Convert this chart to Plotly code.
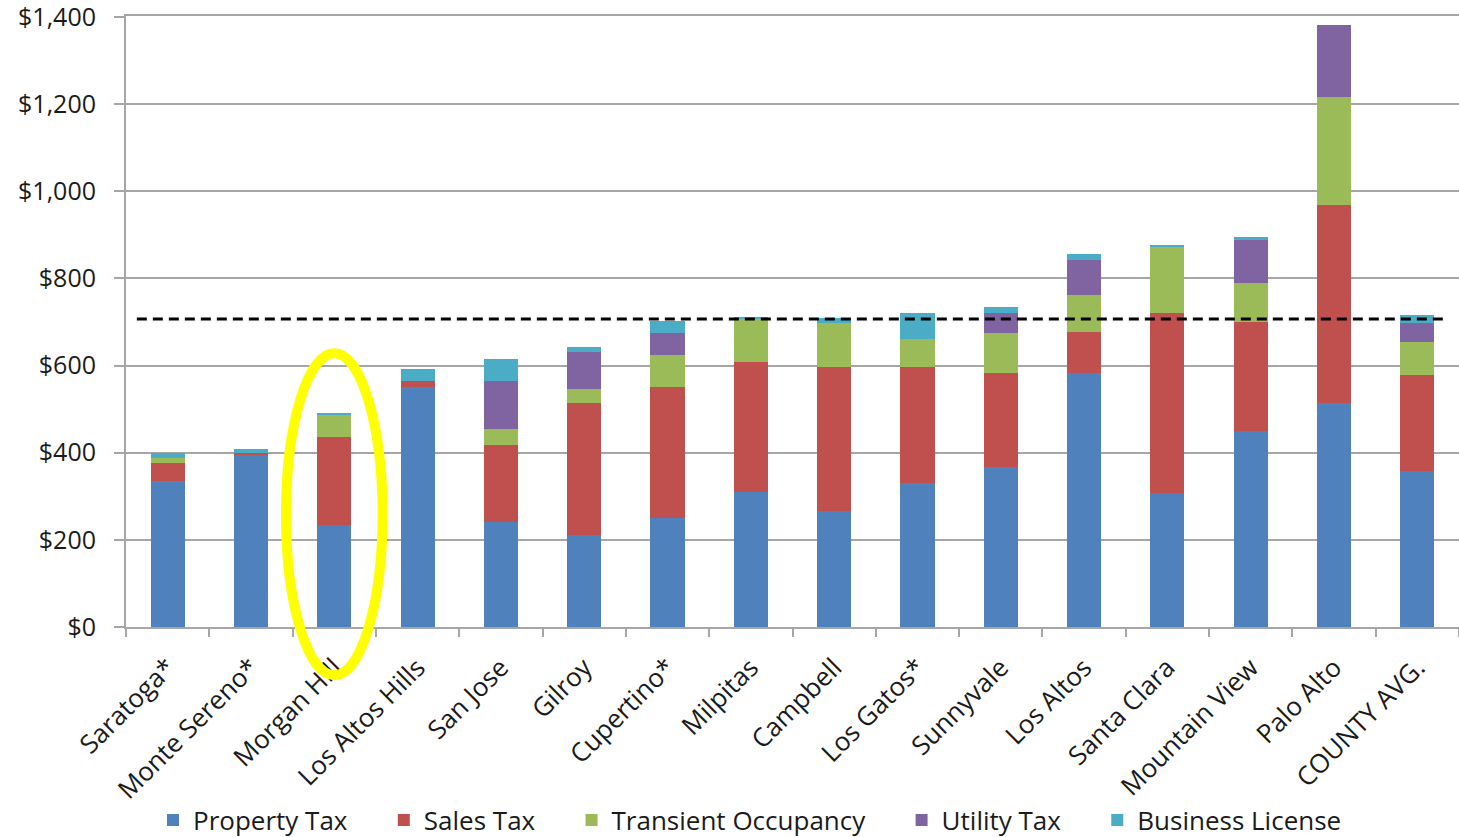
import plotly.graph_objects as go

categories = ["Saratoga*", "Monte Sereno*", "Morgan Hill", "Los Altos Hills", "San Jose",
              "Gilroy", "Cupertino*", "Milpitas", "Campbell", "Los Gatos*", "Sunnyvale",
              "Los Altos", "Santa Clara", "Mountain View", "Palo Alto", "COUNTY AVG."]

property_tax = [335, 394, 234, 550, 240, 212, 249, 309, 267, 331, 368, 582, 308, 450, 514, 359]
sales_tax = [42, 5, 201, 14, 178, 302, 302, 298, 330, 266, 215, 96, 412, 251, 454, 219]
transient_occupancy = [10, 0, 52, 0, 37, 32, 73, 100, 101, 64, 92, 83, 152, 88, 249, 77]
utility_tax = [0, 0, 0, 0, 110, 84, 51, 0, 0, 0, 45, 82, 0, 100, 165, 42]
business_license = [12, 9, 5, 27, 50, 13, 27, 4, 12, 59, 15, 13, 3, 5, 0, 18]

series_names = ["Property Tax", "Sales Tax", "Transient Occupancy", "Utility Tax", "Business License"]
series_values = [property_tax, sales_tax, transient_occupancy, utility_tax, business_license]
series_colors = ["#4F81BD", "#C0504D", "#9BBB59", "#8064A2", "#4BACC6"]

reference_line = 707
highlight_category = "Morgan Hill"
y_ticks = [0, 200, 400, 600, 800, 1000, 1200, 1400]
y_tick_labels = [f"${v:,}" for v in y_ticks]

FONT = "Open Sans"
TXT = "#1b1b1b"
GRID = "#A6A6A6"
PAD = "\u00a0" * 4 + "\u2009"

fig = go.Figure()
for name, vals, col in zip(series_names, series_values, series_colors):
    fig.add_trace(go.Bar(
        x=categories, y=vals, name=name + PAD,
        marker=dict(color=col, line=dict(width=0)),
    ))

n = len(categories)
# dashed reference line
fig.add_shape(type="line", xref="x", yref="y",
              x0=-0.37, x1=n - 1 + 0.33, y0=reference_line, y1=reference_line,
              line=dict(color="black", width=3, dash="10px,6px"), layer="above")

# yellow highlight ellipse around Morgan Hill
idx = categories.index(highlight_category)
cx = (idx + 0.5) / n
half_w = 0.58 / n
fig.add_shape(type="circle", xref="paper", yref="paper",
              x0=cx - half_w, x1=cx + half_w, y0=-0.079, y1=0.448,
              line=dict(color="#FFFF00", width=10), layer="above")

fig.update_layout(
    width=1459, height=837,
    margin=dict(l=126, r=0, t=16, b=210, autoexpand=False),
    barmode="stack", bargap=0.59,
    plot_bgcolor="white", paper_bgcolor="white",
    font=dict(family=FONT, color=TXT),
    showlegend=True,
    legend=dict(orientation="h", xref="container", yref="container",
                x=153 / 1459, xanchor="left", y=1 - 820 / 837, yanchor="middle",
                font=dict(size=26, family=FONT, color=TXT),
                bgcolor="rgba(0,0,0,0)", traceorder="normal"),
)
fig.update_xaxes(
    type="category", categoryorder="array", categoryarray=categories,
    tickangle=-45, tickfont=dict(size=26, family=FONT, color=TXT),
    showline=True, linecolor=GRID, linewidth=2, mirror=True,
    ticks="outside", tickson="boundaries", ticklen=8, tickcolor=GRID, tickwidth=2,
    showgrid=False, ticklabelstandoff=13, automargin=False,
)
fig.update_yaxes(
    range=[0, 1402], tickvals=y_ticks, ticktext=y_tick_labels,
    tickfont=dict(size=25, family=FONT, color=TXT),
    showgrid=True, gridcolor=GRID, gridwidth=2,
    showline=True, linecolor=GRID, linewidth=2,
    ticks="outside", ticklen=10, tickcolor=GRID, tickwidth=2,
    zeroline=False, ticklabelstandoff=13, ticklabeloverflow="allow", automargin=False,
)

fig.write_html("out.html", config={"displayModeBar": False},
               post_script="document.body.style.margin='0';")
